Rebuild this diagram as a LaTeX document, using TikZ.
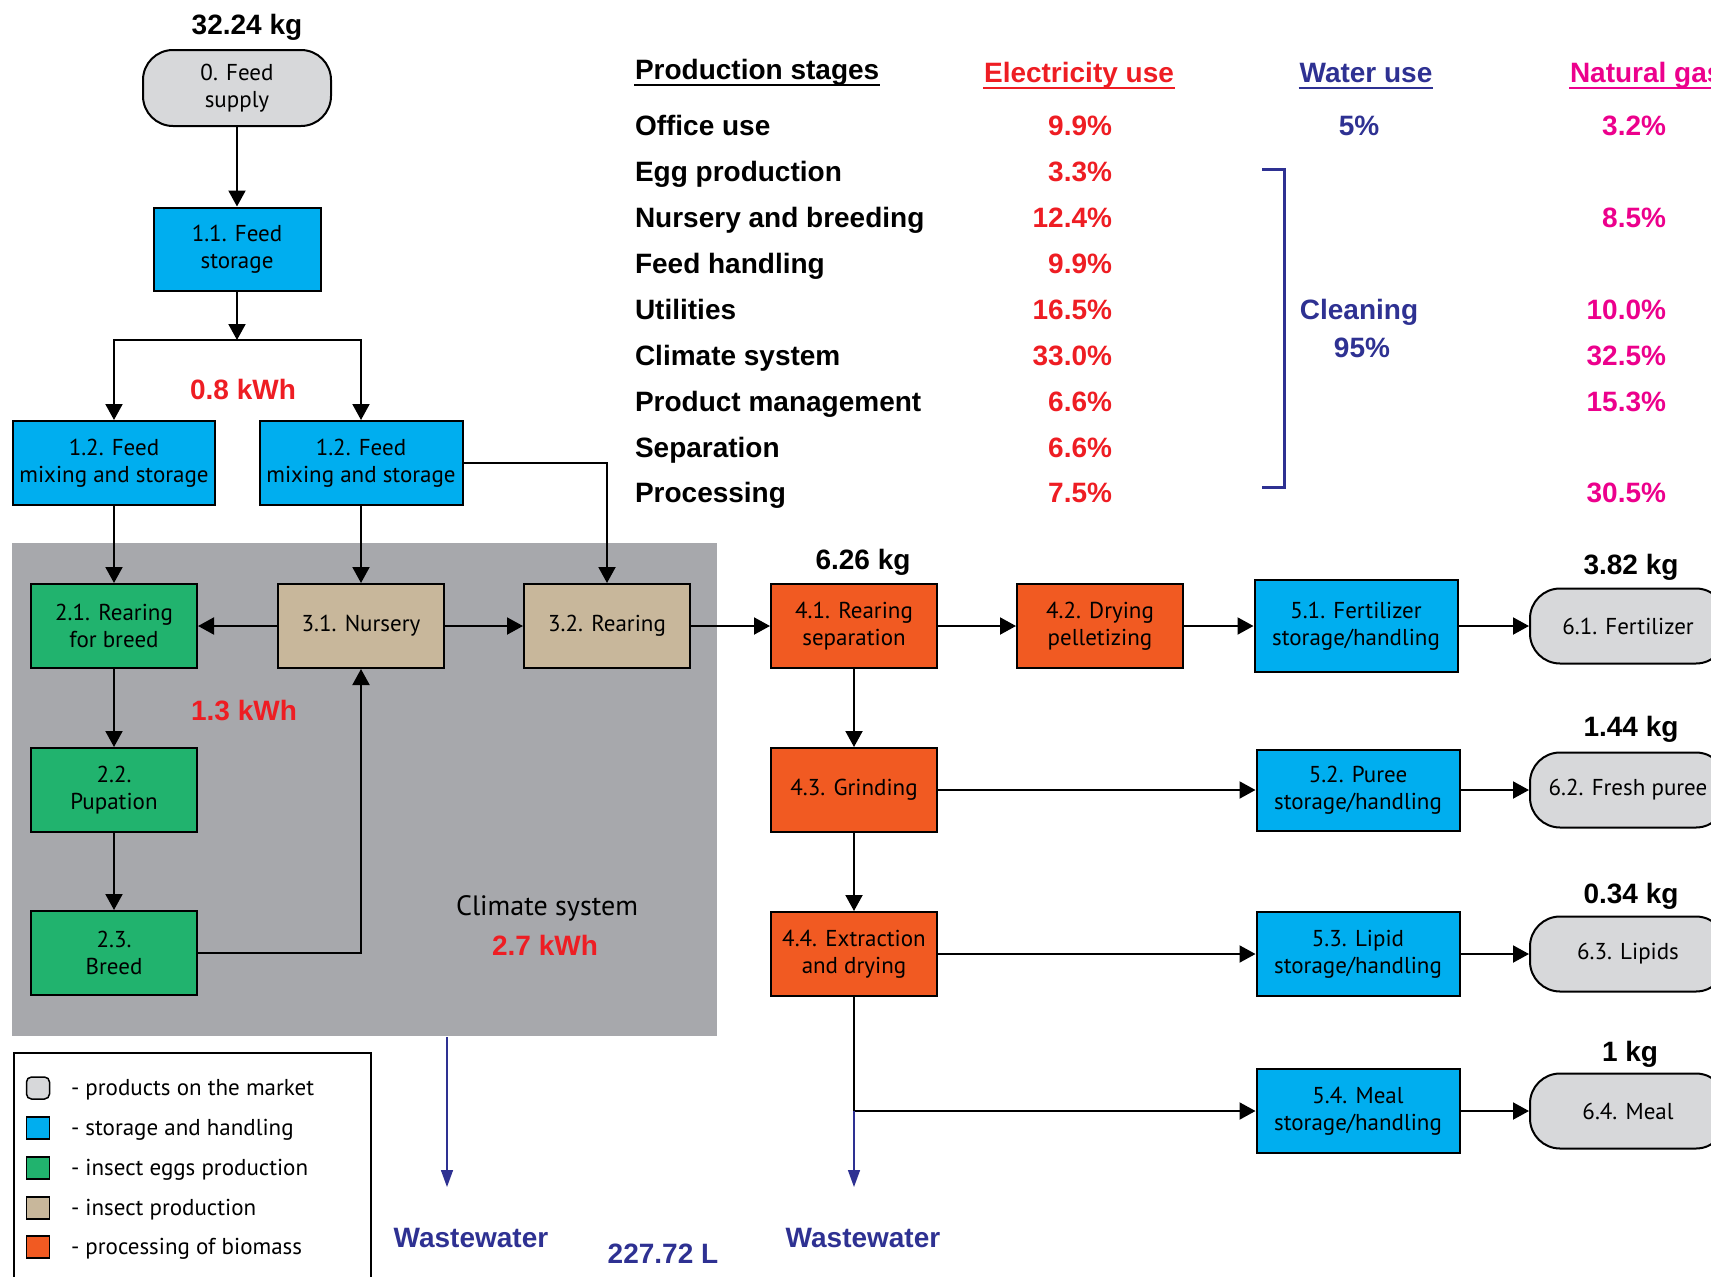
\documentclass[tikz,border=0pt]{standalone}
\usepackage{fontspec}
\setmainfont{Liberation Sans}
\newfontfamily\boxfont{PT Sans}
\usetikzlibrary{arrows.meta}
\definecolor{storeblue}{HTML}{00AEEF}
\definecolor{egggreen}{HTML}{21B36E}
\definecolor{insecttan}{HTML}{C8B79B}
\definecolor{bioorange}{HTML}{F15A22}
\definecolor{prodgray}{HTML}{D7D8DA}
\definecolor{climgray}{HTML}{A7A8AC}
\definecolor{elecred}{HTML}{EE1D23}
\definecolor{waternavy}{HTML}{2E3192}
\definecolor{gaspink}{HTML}{EC008C}
\begin{document}
\begin{tikzpicture}[x=1pt,y=-1pt,line width=2pt,>={Triangle[length=16pt,width=17pt]},
    box/.style={draw,minimum width=166pt,minimum height=84pt,align=center,inner sep=2pt,font=\boxfont\fontsize{23}{27}\selectfont},
    storage/.style={box,fill=storeblue,minimum width=203pt},
    eggs/.style={box,fill=egggreen},
    insects/.style={box,fill=insecttan},
    biomass/.style={box,fill=bioorange},
    product/.style={box,fill=prodgray,rounded corners=30pt,minimum height=75pt},
    tab/.style={inner sep=0pt,text height=21pt,text depth=0pt,font=\bfseries\fontsize{28}{32}\selectfont},
    stage/.style={tab,anchor=west},
    elec/.style={tab,anchor=east,text=elecred},
    gas/.style={tab,anchor=east,text=gaspink},
    water/.style={tab,text=waternavy},
    mass/.style={tab},
    kwh/.style={tab,text=elecred},
    drain/.style={-{Triangle[length=17pt,width=12pt]},line width=1.5pt,waternavy},
    swatch/.style={draw,line width=1.5pt,minimum width=23pt,minimum height=22pt,inner sep=0pt},
    legtext/.style={anchor=west,inner sep=0pt,font=\boxfont\fontsize{23}{27}\selectfont}]
    \useasboundingbox (0,0) rectangle (1711,1277);
    \node[fill=climgray,minimum width=705pt,minimum height=493pt,inner sep=0pt](clim) at (364.5,789.5){};
    \node[mass](feedkg) at (247,24){32.24 kg};
    \node[product,minimum width=188pt,minimum height=76pt](0) at (237,88){0. Feed\\supply};
    \node[storage,minimum width=167pt,minimum height=83pt](11) at (237,249){1.1. Feed\\storage};
    \coordinate(split) at (237,340);
    \node[kwh](feedkwh) at (243,389){0.8 kWh};
    \node[storage,minimum width=202pt](12a) at (114,463){1.2. Feed\\mixing and storage};
    \node[storage](12b) at (361,463){1.2. Feed\\mixing and storage};
    \node[eggs](21) at (114,626){2.1. Rearing\\for breed};
    \node[insects](31) at (361,626){3.1. Nursery};
    \node[insects](32) at (607,626){3.2. Rearing};
    \node[eggs](22) at (114,790){2.2.\\Pupation};
    \node[eggs](23) at (114,953){2.3.\\Breed};
    \node[kwh](rearkwh) at (244,710){1.3 kWh};
    \node[inner sep=0pt,font=\boxfont\fontsize{28}{32}\selectfont](climtext) at (547,908){Climate system};
    \node[kwh](climkwh) at (545,945){2.7 kWh};
    \node[mass](larvakg) at (863,559){6.26 kg};
    \node[biomass](41) at (854,626){4.1. Rearing\\separation};
    \node[biomass](42) at (1100,626){4.2. Drying\\pelletizing};
    \node[biomass](43) at (854,790){4.3. Grinding};
    \node[biomass](44) at (854,954){4.4. Extraction\\and drying};
    \node[storage,minimum height=92pt](51) at (1356,626){5.1. Fertilizer\\storage/handling};
    \node[storage,minimum height=81pt](52) at (1358,790){5.2. Puree\\storage/handling};
    \node[storage](53) at (1358,954){5.3. Lipid\\storage/handling};
    \node[storage](54) at (1358,1111){5.4. Meal\\storage/handling};
    \node[product,minimum width=196pt](61) at (1628,626){6.1. Fertilizer};
    \node[product,minimum width=196pt](62) at (1628,790){6.2. Fresh puree};
    \node[product,minimum width=196pt](63) at (1628,954){6.3. Lipids};
    \node[product,minimum width=196pt](64) at (1628,1111){6.4. Meal};
    \node[mass](fertkg) at (1631,564){3.82 kg};
    \node[mass](pureekg) at (1631,726){1.44 kg};
    \node[mass](lipidkg) at (1631,893){0.34 kg};
    \node[mass](mealkg) at (1630,1051){1 kg};
    \draw[->](0) -- (11);
    \draw[->](11) -- (split);
    \draw[->](split) -| (12a);
    \draw[->](split) -| (12b);
    \draw[->](12a) -- (21);
    \draw[->](12b) -- (31);
    \draw[->](12b) -| (32);
    \draw[->](31) -- (21);
    \draw[->](31) -- (32);
    \draw[->](21) -- (22);
    \draw[->](22) -- (23);
    \draw[->](23) -| (31);
    \draw[->](32) -- (41);
    \draw[->](41) -- (42);
    \draw[->](42) -- (51);
    \draw[->](51) -- (61);
    \draw[->](41) -- (43);
    \draw[->](43) -- (52);
    \draw[->](52) -- (62);
    \draw[->](43) -- (44);
    \draw[->](44) -- (53);
    \draw[->](53) -- (63);
    \draw[->](44) |- (54);
    \draw[->](54) -- (64);
    \coordinate(ww1) at (447,1187);
    \coordinate(ww2) at (854,1187);
    \draw[drain](clim.south -| ww1) -- (ww1);
    \draw[drain](44 |- 54) -- (ww2);
    \node[water](wwtext1) at (471,1237){Wastewater};
    \node[water](wwtext2) at (863,1237){Wastewater};
    \node[water](wwvol) at (663,1253){227.72 L};
    \node[stage](hstage) at (634,69){Production stages};
    \node[tab,text=elecred](helec) at (1079,72){Electricity use};
    \node[water](hwater) at (1366,72){Water use};
    \node[tab,anchor=west,text=gaspink](hgas) at (1569,72){Natural gas};
    \draw([yshift=-4pt]hstage.south west) -- ([yshift=-4pt]hstage.south east);
    \draw[elecred]([yshift=-4pt]helec.south west) -- ([yshift=-4pt]helec.south east);
    \draw[waternavy]([yshift=-4pt]hwater.south west) -- ([yshift=-4pt]hwater.south east);
    \draw[gaspink]([yshift=-4pt]hgas.south west) -- ([yshift=-4pt]hgas.south east);
    \node[stage](office) at (634,125){Office use};
    \node[stage](egg) at (634,171){Egg production};
    \node[stage](nursery) at (634,217){Nursery and breeding};
    \node[stage](feed) at (634,263){Feed handling};
    \node[stage](util) at (634,309){Utilities};
    \node[stage](climate) at (634,355){Climate system};
    \node[stage](prodman) at (634,401){Product management};
    \node[stage](sep) at (634,447){Separation};
    \node[stage](proc) at (634,492){Processing};
    \node[elec](officeel) at (1113,125){9.9\%};
    \node[elec](eggel) at (1113,171){3.3\%};
    \node[elec](nurseryel) at (1113,217){12.4\%};
    \node[elec](feedel) at (1113,263){9.9\%};
    \node[elec](utilel) at (1113,309){16.5\%};
    \node[elec](climateel) at (1113,355){33.0\%};
    \node[elec](prodmanel) at (1113,401){6.6\%};
    \node[elec](sepel) at (1113,447){6.6\%};
    \node[elec](procel) at (1113,492){7.5\%};
    \node[water](officewa) at (1359,125){5\%};
    \draw[waternavy,line width=3pt](1262,169) -- (1284,169) -- (1284,487) -- (1262,487);
    \node[water](clean) at (1359,309){Cleaning};
    \node[water](cleanpct) at (1362,347){95\%};
    \node[gas](officega) at (1667,125){3.2\%};
    \node[gas](nurseryga) at (1667,217){8.5\%};
    \node[gas](utilga) at (1667,309){10.0\%};
    \node[gas](climatega) at (1667,355){32.5\%};
    \node[gas](prodmanga) at (1667,401){15.3\%};
    \node[gas](procga) at (1667,492){30.5\%};
    \draw(14,1053) rectangle (371,1300);
    \node[swatch,fill=prodgray,rounded corners=5pt](sw1) at (38,1088){};
    \node[swatch,fill=storeblue](sw2) at (38,1128){};
    \node[swatch,fill=egggreen](sw3) at (38,1168){};
    \node[swatch,fill=insecttan](sw4) at (38,1208){};
    \node[swatch,fill=bioorange](sw5) at (38,1247){};
    \node[legtext](lg1) at (70,1090){- products on the market};
    \node[legtext](lg2) at (70,1130){- storage and handling};
    \node[legtext](lg3) at (70,1170){- insect eggs production};
    \node[legtext](lg4) at (70,1210){- insect production};
    \node[legtext](lg5) at (70,1249){- processing of biomass};
\end{tikzpicture}
\end{document}
